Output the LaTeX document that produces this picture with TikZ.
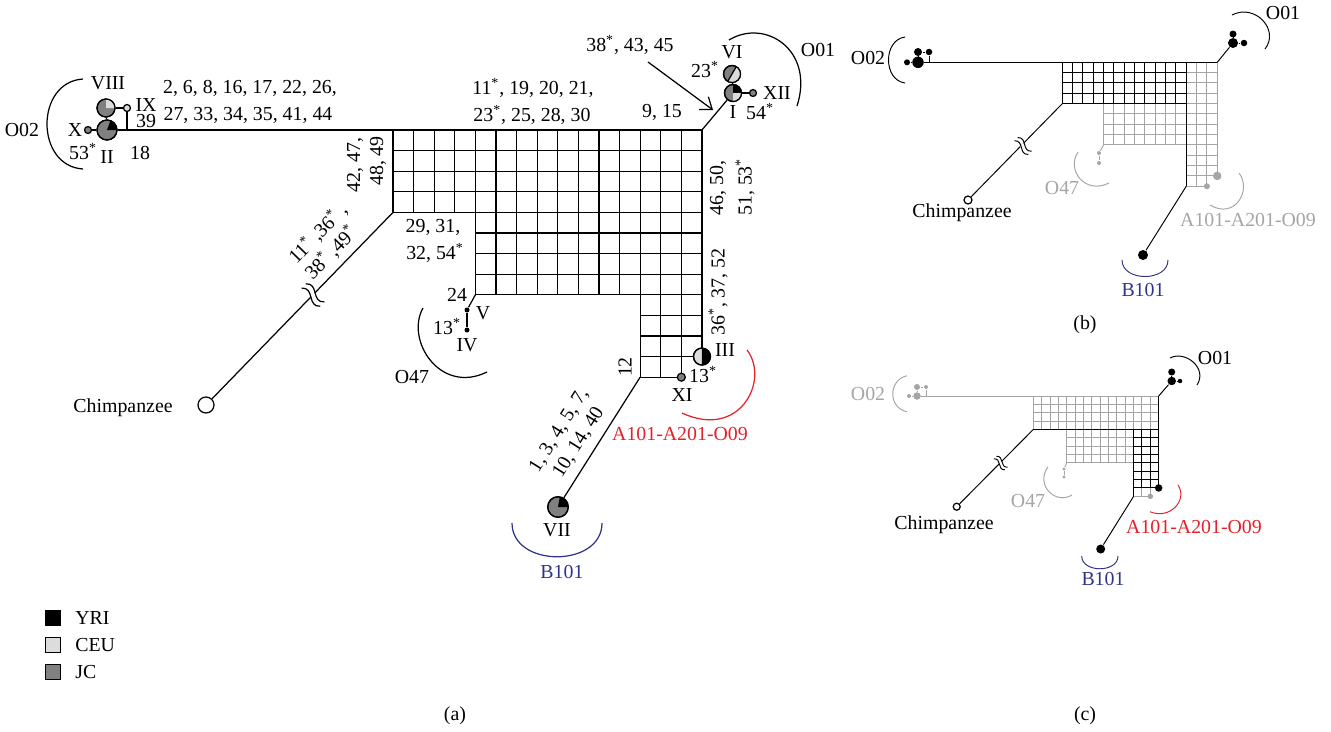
\documentclass[tikz,border=0pt]{standalone}
\usepackage{fontspec}
\setmainfont{Liberation Serif}
\usetikzlibrary{arrows.meta}

\definecolor{yri}{RGB}{0,0,0}
\definecolor{ceu}{RGB}{220,220,220}
\definecolor{jc}{RGB}{128,128,128}
\definecolor{fade}{RGB}{165,165,165}
\definecolor{abored}{RGB}{228,32,42}
\definecolor{bblue}{RGB}{48,50,140}

\newcommand{\mstar}{\textsuperscript{*}}
% block of mutation cells, in cell units
\newcommand{\cellblock}[5][]{%
  \foreach \i in {#2,...,#4} \draw[#1] (\i,#3) -- (\i,#5);
  \foreach \j in {#3,...,#5} \draw[#1] (#2,\j) -- (#4,\j);
}
% one slice of a haplotype pie
\newcommand{\slice}[5]{\fill[#2] (#1.center) -- +(#3:#5) arc (#3:#4:#5) -- cycle;}
% break mark on the long branch
\newcommand{\brk}[3]{%
  \begin{scope}[shift={#1},rotate=#2,scale=#3]
    \fill[white] (-3,-3) rectangle (3,3);
    \draw (-3,-13) .. controls (-13,-4) and (7,4) .. (-3,13);
    \draw (3,-13) .. controls (-7,-4) and (13,4) .. (3,13);
  \end{scope}}

\tikzset{
  hap/.style={circle,draw,inner sep=0pt,minimum size=#1},
  hapdot/.style={circle,fill,inner sep=0pt,minimum size=#1},
  key/.style={draw,inner sep=0pt,minimum size=0.29cm},
}

\begin{document}
\begin{tikzpicture}[x=0.02cm,y=0.02cm,line width=0.7pt,inner sep=1pt,font=\fontsize{11.3}{13}\selectfont]
  \useasboundingbox (0,0) rectangle (1331,-731);

  % ---------------- (a) ----------------
  % Draw the mutation grid
  \begin{scope}[shift={(393,-130)},x=0.412cm,y=-0.412cm]
    \cellblock{0}{0}{15}{4}
    \cellblock{4}{4}{15}{8}
    \cellblock{12}{8}{14}{12}
    \cellblock{14}{8}{15}{11}
    \coordinate (aNW) at (0,0);
    \coordinate (aNE) at (15,0);
    \coordinate (aW) at (0,4);
    \coordinate (aSW) at (4,8);
    \coordinate (aS) at (12,12);
    \node[hap=0.34cm,fill=ceu] (aIII) at (15,11) {};
    \node[hap=0.16cm,fill=jc] (aXI) at (14,12) {};
  \end{scope}

  % Draw the haplotypes
  \node[hap=0.40cm,fill=jc] (aII) at (107,-130) {};
  \node[hap=0.36cm,fill=jc] (aVIII) at (106,-108) {};
  \node[hap=0.14cm,fill=ceu] (aIX) at (127,-108) {};
  \node[hap=0.14cm,fill=jc] (aX) at (88,-130) {};
  \coordinate (aJ) at (127,-130);
  \node[hap=0.34cm,fill=jc] (aVI) at (732,-74) {};
  \node[hap=0.34cm,fill=jc] (aI) at (733,-93) {};
  \node[hap=0.14cm,fill=jc] (aXII) at (753,-93) {};
  \node[hapdot=0.1cm] (aV) at (467,-310) {};
  \node[hapdot=0.1cm] (aIV) at (467,-330) {};
  \node[hap=0.41cm,fill=jc] (aVII) at (558,-507) {};
  \node[hap=0.32cm,fill=white] (aChimp) at (206,-405) {};

  % pies
  \slice{aII}{yri}{0}{70}{10}
  \slice{aVIII}{ceu}{0}{90}{9}
  \slice{aVI}{ceu}{-120}{60}{8.5}
  \slice{aI}{yri}{0}{90}{8.5}
  \slice{aI}{ceu}{-90}{0}{8.5}
  \slice{aIII}{yri}{-90}{90}{8.5}
  \slice{aVII}{yri}{0}{80}{10.3}
  \draw (aII.center) circle (10);
  \draw (aVIII.center) circle (9);
  \draw (aVI.center) circle (8.5);
  \draw (aI.center) circle (8.5);
  \draw (aIII.center) circle (8.5);
  \draw (aVII.center) circle (10.3);
  \draw (aVI.center) -- +(60:8.5) (aVI.center) -- +(240:8.5);

  % branches
  \draw (aX) -- (aII);
  \draw (aII) -- (aNW);
  \draw (aII) -- (aVIII);
  \draw (aVIII) -- (aIX);
  \draw (aIX) -- (aJ);
  \draw (aNE) -- (aI);
  \draw (aI) -- (aXII);
  \draw (aI) -- (aVI);
  \draw (aSW) -- (aV);
  \draw (aV) -- (aIV);
  \draw (aS) -- (aVII);
  \draw (aW) -- (aChimp);
  \brk{(313,-295)}{45.8}{1}

  % arrow to the O01 branch
  \coordinate (aArrow) at (648,-62);
  \coordinate (aArrowTip) at (713,-110);
  \draw[-{Straight Barb[length=6pt,width=9pt]}] (aArrow) -- (aArrowTip);

  % clade brackets
  \draw (83,-79) .. controls (35,-82) and (35,-166) .. (83,-169);
  \draw (729,-40) .. controls (765,-18) and (815,-50) .. (797,-106);
  \draw (423,-308) .. controls (405,-340) and (440,-395) .. (487,-372);
  \draw[abored] (747,-350) .. controls (770,-380) and (740,-440) .. (682,-413);
  \draw[bblue] (512,-523) .. controls (512,-568) and (602,-568) .. (602,-523);

  % labels
  \node (aLVIII) at (108,-83) {VIII};
  \node (aLIX) at (146,-105) {IX};
  \node (aL39) at (146,-121) {39};
  \node (aLX) at (75,-130) {X};
  \node (aL53) at (83,-152) {53\mstar};
  \node (aLII) at (107,-157) {II};
  \node (aL18) at (140,-153) {18};
  \node (aLO02) at (22,-130) {O02};
  \node (aLtop1) at (250,-88) {2, 6, 8, 16, 17, 22, 26,};
  \node (aLtop2) at (248,-115) {27, 33, 34, 35, 41, 44};
  \node (aLmid1) at (533,-88) {11\mstar, 19, 20, 21,};
  \node (aLmid2) at (532,-115) {23\mstar, 25, 28, 30};
  \node (aL9) at (662,-112) {9, 15};
  \node (aL38) at (630,-45) {38\mstar, 43, 45};
  \node (aLVI) at (732,-52) {VI};
  \node (aL23) at (705,-70) {23\mstar};
  \node (aLO01) at (818,-50) {O01};
  \node (aLXII) at (777,-93) {XII};
  \node (aLI) at (733,-112) {I};
  \node (aL54) at (760,-112) {54\mstar};
  \node[rotate=90] (aL42) at (355,-165) {42, 47,};
  \node[rotate=90] (aL48) at (378,-161) {48, 49};
  \node[rotate=90] (aL46) at (718,-188) {46, 50,};
  \node[rotate=90] (aL51) at (745,-187) {51, 53\mstar};
  \node[rotate=90] (aL36) at (718,-292) {36\mstar, 37, 52};
  \node (aL29) at (433,-227) {29, 31,};
  \node (aL32) at (435,-253) {32, 54\mstar};
  \node (aL24) at (457,-295) {24};
  \node (aLV) at (483,-313) {V};
  \node (aL13a) at (447,-327) {13\mstar};
  \node (aLIV) at (467,-345) {IV};
  \node (aLO47) at (412,-377) {O47};
  \node (aLIII) at (725,-350) {III};
  \node (aL13b) at (703,-375) {13\mstar};
  \node (aLXI) at (682,-395) {XI};
  \node[abored] (aLA101) at (680,-434) {A101-A201-O09};
  \node[rotate=90] (aL12) at (625,-367) {12};
  \node[rotate=57.8,align=center] (aL1) at (569,-436.5) {1, 3, 4, 5, 7,\\10, 14, 40};
  \node (aLVII) at (557,-530) {VII};
  \node[bblue] (aLB101) at (562,-572) {B101};
  \node[rotate=45.8,align=left] (aL11) at (326,-241.5) {11\mstar\ ,36\mstar\ ,\\38\mstar\ ,49\mstar};
  \node (aLChimp) at (123,-408) {Chimpanzee};
  \node (aCap) at (455,-716) {(a)};

  % legend
  \node[key,fill=yri] (kYRI) at (53,-618) {};
  \node[key,fill=ceu] (kCEU) at (53,-645) {};
  \node[key,fill=jc] (kJC) at (53,-672) {};
  \node[anchor=west] (kLYRI) at (73,-618) {YRI};
  \node[anchor=west] (kLCEU) at (73,-645) {CEU};
  \node[anchor=west] (kLJC) at (73,-672) {JC};

  % ---------------- (b) ----------------
  \begin{scope}[shift={(1062.3,-62.3)},x=0.2066cm,y=-0.2066cm,line width=0.55pt]
    \cellblock[fade]{12}{0}{15}{4}
    \cellblock[fade]{4}{4}{15}{8}
    \cellblock[fade]{12}{8}{14}{12}
    \cellblock[fade]{14}{8}{15}{11}
    \cellblock{0}{0}{12}{4}
    \draw (12,0) -- (12,12);
    \draw (12,0) -- (15,0);
    \coordinate (bNW) at (0,0);
    \coordinate (bNE) at (15,0);
    \coordinate (bW) at (0,4);
    \coordinate (bSW) at (4,8);
    \coordinate (bS) at (12,12);
    \node[hapdot=0.17cm,fill=fade] (bIII) at (15,11) {};
    \node[hapdot=0.12cm,fill=fade] (bXI) at (14,12) {};
  \end{scope}
  \node[hapdot=0.23cm] (bII) at (918,-62.3) {};
  \node[hapdot=0.16cm] (bVIII) at (918,-52) {};
  \node[hapdot=0.13cm] (bIX) at (929,-52) {};
  \node[hapdot=0.12cm] (bX) at (907,-62.3) {};
  \coordinate (bJ) at (929,-62.3);
  \node[hapdot=0.2cm] (bI) at (1233,-43) {};
  \node[hapdot=0.14cm] (bVI) at (1233,-34) {};
  \node[hapdot=0.13cm] (bXII) at (1244,-43) {};
  \node[hapdot=0.08cm,fill=fade] (bV) at (1099,-153) {};
  \node[hapdot=0.08cm,fill=fade] (bIV) at (1099,-163) {};
  \node[hapdot=0.2cm] (bVII) at (1143,-255) {};
  \node[hap=0.16cm,fill=white] (bChimp) at (968,-200) {};
  \begin{scope}[line width=0.55pt]
    \draw (bX) -- (bII);
    \draw (bII) -- (bNW);
    \draw (bII) -- (bVIII);
    \draw (bVIII) -- (bIX);
    \draw (bIX) -- (bJ);
    \draw (bNE) -- (bI);
    \draw (bI) -- (bXII);
    \draw (bI) -- (bVI);
    \draw[fade] (bSW) -- (bV);
    \draw[fade] (bV) -- (bIV);
    \draw (bS) -- (bVII);
    \draw (bW) -- (bChimp);
    \brk{(1023,-146)}{45.6}{0.75}
    \draw (905,-37) .. controls (883,-40) and (883,-80) .. (905,-83);
    \draw (1232,-15) .. controls (1255,-3) and (1280,-30) .. (1265,-49);
    \draw[fade] (1078,-152) .. controls (1066,-170) and (1085,-195) .. (1109,-183);
    \draw[fade] (1239,-173) .. controls (1252,-190) and (1235,-220) .. (1210,-205);
    \draw[bblue] (1122,-260) .. controls (1122,-282) and (1168,-282) .. (1168,-260);
  \end{scope}
  \node (bLO02) at (868,-58) {O02};
  \node (bLO01) at (1283,-13) {O01};
  \node[fade] (bLO47) at (1062,-188) {O47};
  \node[fade] (bLA101) at (1248,-220) {A101-A201-O09};
  \node[bblue] (bLB101) at (1143,-290) {B101};
  \node (bLChimp) at (962,-213) {Chimpanzee};
  \node (bCap) at (1085,-325) {(b)};

  % ---------------- (c) ----------------
  \begin{scope}[shift={(1033.3,-396)},x=0.1672cm,y=-0.1672cm,line width=0.55pt]
    \cellblock[fade]{0}{0}{15}{4}
    \cellblock[fade]{4}{4}{15}{8}
    \cellblock[fade]{12}{8}{14}{12}
    \cellblock[fade]{14}{8}{15}{11}
    \cellblock{12}{4}{15}{11}
    \draw (0,4) -- (12,4);
    \draw (15,0) -- (15,4);
    \draw (12,11) -- (12,12);
    \coordinate (cNW) at (0,0);
    \coordinate (cNE) at (15,0);
    \coordinate (cW) at (0,4);
    \coordinate (cSW) at (4,8);
    \coordinate (cS) at (12,12);
    \node[hapdot=0.15cm] (cIII) at (15,11) {};
    \node[hapdot=0.11cm,fill=fade] (cXI) at (14,12) {};
  \end{scope}
  \node[hapdot=0.15cm,fill=fade] (cII) at (917,-396) {};
  \node[hapdot=0.12cm,fill=fade] (cVIII) at (917,-387) {};
  \node[hapdot=0.08cm,fill=fade] (cIX) at (926,-387) {};
  \node[hapdot=0.08cm,fill=fade] (cX) at (909,-396) {};
  \coordinate (cJ) at (926,-396);
  \node[hapdot=0.17cm] (cI) at (1171.7,-381) {};
  \node[hapdot=0.14cm] (cVI) at (1171.7,-372) {};
  \node[hapdot=0.09cm] (cXII) at (1180,-381) {};
  \node[hapdot=0.065cm,fill=fade] (cV) at (1064,-469) {};
  \node[hapdot=0.065cm,fill=fade] (cIV) at (1064,-477) {};
  \node[hapdot=0.18cm] (cVII) at (1100.7,-549) {};
  \node[hap=0.14cm,fill=white] (cChimp) at (956.7,-506.7) {};
  \begin{scope}[line width=0.55pt]
    \draw[fade] (cX) -- (cII);
    \draw[fade] (cII) -- (cNW);
    \draw[fade] (cII) -- (cVIII);
    \draw[fade] (cVIII) -- (cIX);
    \draw[fade] (cIX) -- (cJ);
    \draw (cNE) -- (cI);
    \draw (cI) -- (cXII);
    \draw (cI) -- (cVI);
    \draw[fade] (cSW) -- (cV);
    \draw[fade] (cV) -- (cIV);
    \draw (cS) -- (cVII);
    \draw (cW) -- (cChimp);
    \brk{(1000.7,-463)}{45.3}{0.6}
    \draw[fade] (907,-375.7) .. controls (888,-380) and (888,-408) .. (907,-411.7);
    \draw (1170,-358) .. controls (1185,-350) and (1208,-368) .. (1197,-385);
    \draw[fade] (1048,-466.7) .. controls (1035,-485) and (1055,-505) .. (1072,-495);
    \draw[abored] (1178,-485) .. controls (1188,-500) and (1170,-520) .. (1150,-511.7);
    \draw[bblue] (1081.7,-556) .. controls (1081.7,-573) and (1118,-573) .. (1118,-556);
  \end{scope}
  \node[fade] (cLO02) at (868,-394) {O02};
  \node (cLO01) at (1215,-358) {O01};
  \node[fade] (cLO47) at (1028,-501) {O47};
  \node[abored] (cLA101) at (1194,-527) {A101-A201-O09};
  \node[bblue] (cLB101) at (1103,-579) {B101};
  \node (cLChimp) at (944,-525) {Chimpanzee};
  \node (cCap) at (1085,-716) {(c)};
\end{tikzpicture}
\end{document}
